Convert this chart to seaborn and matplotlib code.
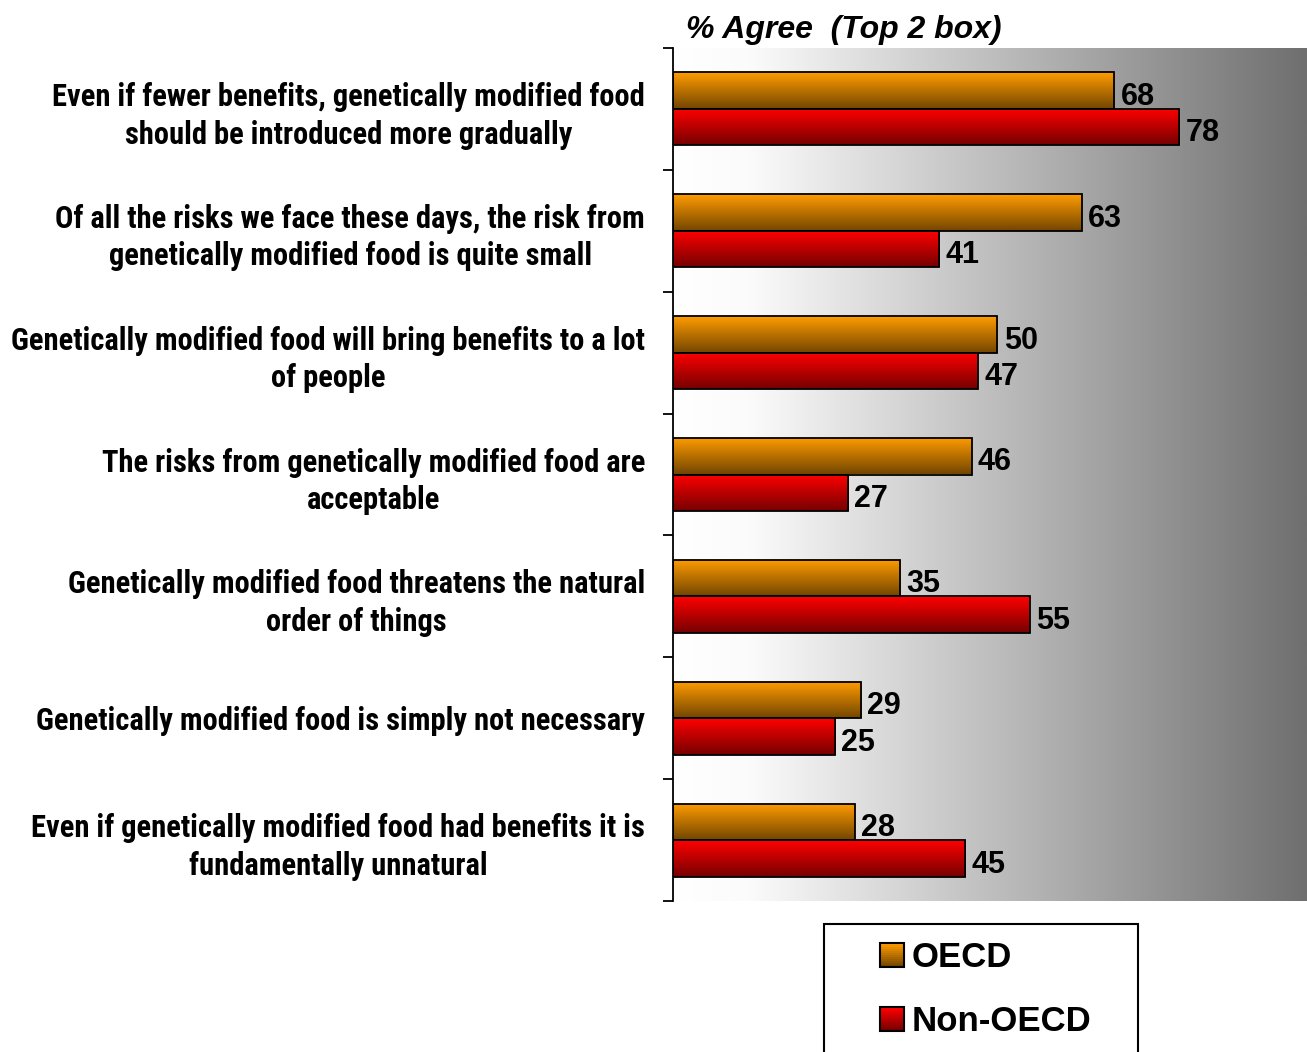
import numpy as np
import pandas as pd
import seaborn as sns
import matplotlib.pyplot as plt
from matplotlib.colors import LinearSegmentedColormap, to_rgb
from matplotlib.patches import Rectangle
from matplotlib.legend_handler import HandlerBase

statements = [
    'Even if fewer benefits, genetically modified food\nshould be introduced more gradually',
    'Of all the risks we face these days, the risk from\ngenetically modified food is quite small',
    'Genetically modified food will bring benefits to a lot\nof people',
    'The risks from genetically modified food are\nacceptable',
    'Genetically modified food threatens the natural\norder of things',
    'Genetically modified food is simply not necessary',
    'Even if genetically modified food had benefits it is\nfundamentally unnatural',
]
groups = ['OECD', 'Non-OECD']
oecd = [68, 63, 50, 46, 35, 29, 28]
non_oecd = [78, 41, 47, 27, 55, 25, 45]

df = pd.DataFrame({
    'statement': statements * 2,
    'group': ['OECD'] * len(statements) + ['Non-OECD'] * len(statements),
    'pct': oecd + non_oecd,
})

# top / bottom colour of each bar's vertical shading
shades = {'OECD': ('#ff9c00', '#744600'), 'Non-OECD': ('#ff0000', '#760000')}

sns.set_style('white')
plt.rcParams['text.color'] = 'black'
plt.rcParams['ytick.color'] = 'black'
narrow = ['Roboto Condensed', 'DejaVu Sans']
plain = ['Liberation Sans', 'DejaVu Sans']


def blend(c1, c2, t):
    a, b = np.array(to_rgb(c1)), np.array(to_rgb(c2))
    return a * (1 - t) + b * t


class GradientHandler(HandlerBase):
    def create_artists(self, legend, orig_handle, xdescent, ydescent,
                       width, height, fontsize, trans):
        top, bottom = shades[orig_handle.get_label()]
        n = 12
        arts = []
        for i in range(n):
            arts.append(Rectangle((-xdescent, -ydescent + i * height / n), width, height / n,
                                  facecolor=blend(bottom, top, i / (n - 1)), linewidth=0,
                                  transform=trans))
        arts.append(Rectangle((-xdescent, -ydescent), width, height, facecolor='none',
                              edgecolor='black', linewidth=1.5, transform=trans))
        return arts


fig = plt.figure(figsize=(13.07, 10.52), dpi=100)
ax = fig.add_axes([673 / 1307, 1 - 901 / 1052, 1 - 673 / 1307, 853 / 1052])

sns.barplot(data=df, x='pct', y='statement', hue='group', hue_order=groups,
            orient='h', width=0.6, ax=ax, legend=False,
            edgecolor='black', linewidth=1.3)

# grey background fading from white on the left
bg = LinearSegmentedColormap.from_list('bg', [(0, '#ffffff'), (0.12, '#fbfbfb'), (1, '#6f6f6f')])
ax.imshow(np.linspace(0, 1, 256).reshape(1, -1), cmap=bg, aspect='auto',
          extent=(0, 1, 0, 1), transform=ax.transAxes, zorder=0)

for grp, cont in zip(groups, ax.containers):
    top, bottom = shades[grp]
    grad = np.array([blend(top, bottom, t) for t in np.linspace(0, 1, 64)]).reshape(-1, 1, 3)
    for bar in cont:
        x0, y0, w, h = bar.get_x(), bar.get_y(), bar.get_width(), bar.get_height()
        bar.set_facecolor('none')
        bar.set_zorder(3)
        im = ax.imshow(grad, aspect='auto', extent=(x0, x0 + w, y0 + h, y0),
                       origin='upper', zorder=2)
        im.set_clip_path(bar)
    anns = ax.bar_label(cont, padding=6, fontsize=22, fontweight='bold', family=plain, color='black')
    for a in anns:
        a.xyann = (4.5, -4.5)

ax.set_xlim(0, 97.7)
ax.set_ylim(6.5, -0.5)
ax.set_xticks([])
ax.set_xlabel('')
ax.set_ylabel('')
for side in ['top', 'right', 'bottom']:
    ax.spines[side].set_visible(False)
ax.spines['left'].set_color('black')
ax.spines['left'].set_linewidth(1.3)

ax.set_yticks(np.arange(-0.5, 7, 1), minor=True)
ax.tick_params(axis='y', which='major', length=0, pad=20)
ax.tick_params(axis='y', which='minor', left=True, length=7, width=1.3, color='black', direction='out')
for lab in ax.get_yticklabels():
    lab.set_family(narrow)
    lab.set_fontsize(22)
    lab.set_fontweight('bold')
    lab.set_color('black')
    lab.set_multialignment('center')
    lab.set_linespacing(1.32)

fig.text(686 / 1307, 1 - 15 / 1052, '% Agree  (Top 2 box)', ha='left', va='top',
         fontsize=23, fontweight='bold', style='italic', family=plain)

# legend frame runs past the bottom edge
fig.patches.append(Rectangle((824 / 1307, -0.05), 314 / 1307, 0.05 + 1 - 924 / 1052,
                             transform=fig.transFigure, facecolor='white',
                             edgecolor='black', linewidth=1.5))
handles = [Rectangle((0, 0), 1, 1, label=g) for g in groups]
fig.legend(handles=handles, loc='upper left', bbox_to_anchor=(880 / 1307, 1 - 941 / 1052),
           frameon=False, handler_map={Rectangle: GradientHandler()},
           prop={'family': plain, 'weight': 'bold', 'size': 25},
           handlelength=0.7, handleheight=0.7, handletextpad=0.22, labelspacing=0.9,
           borderpad=0, borderaxespad=0)

fig.savefig('out.png', dpi=100)
